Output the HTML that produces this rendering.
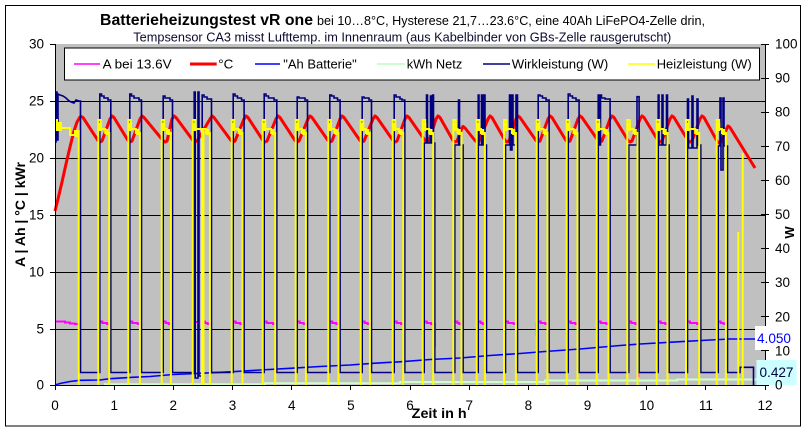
<!DOCTYPE html>
<html><head><meta charset="utf-8"><style>html,body{margin:0;padding:0;background:#fff;overflow:hidden}svg{display:block}</style></head><body>
<svg xmlns="http://www.w3.org/2000/svg" width="809" height="432" viewBox="0 0 809 432" font-family="'Liberation Sans', Arial, sans-serif">
<rect x="0" y="0" width="809" height="432" fill="#fff"/>
<rect x="5.5" y="5.5" width="795" height="420.5" fill="#fff" stroke="#000" stroke-width="1" shape-rendering="crispEdges"/>
<!-- title -->
<text x="100" y="25" font-size="16" font-weight="bold" fill="#000" textLength="213" lengthAdjust="spacingAndGlyphs">Batterieheizungstest vR one</text>
<text x="317" y="25" font-size="13" fill="#000" textLength="388" lengthAdjust="spacingAndGlyphs">bei 10…8°C, Hysterese 21,7…23.6°C, eine 40Ah LiFePO4-Zelle drin,</text>
<text x="133.3" y="41.5" font-size="13" fill="#0a0a30" textLength="538" lengthAdjust="spacingAndGlyphs">Tempsensor CA3 misst Lufttemp. im Innenraum (aus Kabelbinder von GBs-Zelle rausgerutscht)</text>
<!-- plot area -->
<rect x="55" y="44" width="711" height="341" fill="#C0C0C0"/>
<g stroke="#000" stroke-width="1" shape-rendering="crispEdges" fill="none">
<path d="M55,101.5H766M55,158.5H766M55,215.5H766M55,272.5H766M55,329.5H766"/>
</g>
<!-- legend -->
<rect x="64.5" y="48" width="695" height="32" fill="#fff" stroke="#000" stroke-width="1" shape-rendering="crispEdges"/>
<g fill="none">
<path d="M74,64H100" stroke="#FF00FF" stroke-width="1.5"/>
<path d="M190,64H216.7" stroke="#FF0000" stroke-width="3"/>
<path d="M255,64H280" stroke="#0000FF" stroke-width="1.5"/>
<path d="M377,64H405" stroke="#CCFFCC" stroke-width="2"/>
<path d="M483,64H510" stroke="#000080" stroke-width="1.5"/>
<path d="M628,64H655" stroke="#FFFF00" stroke-width="1.5"/>
</g>
<g font-size="13.3" fill="#000">
<text x="102.7" y="68.5" textLength="69" lengthAdjust="spacingAndGlyphs">A bei 13.6V</text>
<text x="218.3" y="68.5" textLength="15" lengthAdjust="spacingAndGlyphs">°C</text>
<text x="283.3" y="68.5" textLength="73.4" lengthAdjust="spacingAndGlyphs">&quot;Ah Batterie&quot;</text>
<text x="406.7" y="68.5" textLength="55.6" lengthAdjust="spacingAndGlyphs">kWh Netz</text>
<text x="511.7" y="68.5" textLength="96.6" lengthAdjust="spacingAndGlyphs">Wirkleistung (W)</text>
<text x="656.7" y="68.5" textLength="95" lengthAdjust="spacingAndGlyphs">Heizleistung (W)</text>
</g>
<!-- magenta A -->
<path fill="none" stroke="#FF00FF" stroke-width="2" d="M55,321.5H65V322.5H70V323.5H75V324H79.5V360
M99.8,321.5H102.3V323H107V324H109
M129.8,321.5H132.3V323H137.7V324H139.7
M163.2,321.5H165.7V323H168.7V324H170.7
M194,322H198M203,321.5H205V323H207.7V324H209.7
M233.2,321.5H235.7V323H240.3V324H242.3
M264.2,321.5H266.7V323H273V324H275
M297.2,321.5H299.7V323H303.7V324H305.7
M329.8,321.5H332.3V323H336.3V324H338.3
M362.2,321.5H364.7V323H367.7V324H369.7
M394.2,321.5H396.7V323H401V324H403
M424.2,321.5H426.7V323H431V324H433M434.8,323V347
M454.8,321.5H457.3V323H459.3V324H461.3
M478.2,321.5H480.7V323H482.7V324H484.7
M505.5,321.5H508V323H513.7V324H515.7
M536.5,322V336M538.2,321.5H540.7V323H545.3V324H547.3
M568.2,321.5H570.7V323H575.3V324H577.3
M598.2,321.5H600.7V323H606.3V324H608.3
M628.8,321.5H631.3V323H635.3V324H637.3M638.3,353V377
M658.2,321.5H660.7V323H665.3V324H667.3
M687.5,321.5H690V323H697V324H699
M718.2,321.5H720.7V323H723.7V324H725.7"/>
<!-- red temperature -->
<path fill="none" stroke="#FF0000" stroke-width="3" stroke-linejoin="round" d="M55,211L58,199L62,182L66,164L70,147L74,131L77,122L80,117L81,116.5
L83,117.5L98,140.5L100,142L102,141L110,119L112,116
L114,117.5L128,140.5L130,142L132,141L140,119L142,116
L144,117.5L163,140.5L165,142L167,141L172,119L174,116
L176,117.5L193,140.5L195,142L197,141L210,119L212,116
L214,117.5L231,140.5L233,142L235,141L244,119L246,116
L248,117.5L263,140.5L265,142L267,141L276,119L278,116
L280,117.5L295,140.5L297,142L299,141L308,119L310,116
L312,117.5L328,140.5L330,142L332,141L340,119L342,116
L344,117.5L360,140.5L362,142L364,141L373,119L375,116
L377,117.5L393,140.5L395,142L397,141L405,119L407,116
L409,117.5L425,140.5L427,142L429,141L436,119L438,116
L440,117.5L453,140.5L455,142L457,141L462,128L463,126.5
L465,128L475,140.5L477,142L479,141L488,119L490,116
L492,117.5L505,140.5L507,142L509,141L516,119L518,116
L520,117.5L536,140.5L538,142L540,141L548,119L550,116
L552,117.5L566,140.5L568,142L570,141L578,119L580,116
L582,117.5L598,140.5L600,142L602,141L610,119L612,116
L614,117.5L628,140.5L630,142L632,141L640,119L642,116
L644,117.5L658,140.5L660,142L662,141L670,119L672,116
L674,117.5L688,140.5L690,142L692,141L700,119L702,116
L704,117.5L717,141L719,143L721,142L727,128L728,126
L730,127.5L755,168"/>
<!-- blue Ah -->
<path fill="none" stroke="#0000FF" stroke-width="1.6" d="M55,385L60,383.5L70,381.5L80,380.3L100,380L110,378.7L132,377.3L150,376.5L173,374.5L200,373.3L233,371.7L260,370L290,368.3L320,366.5L350,365L373,363.3L400,361.8L430,359.5L460,358L490,355.5L520,353.5L545,351.5L580,349L620,345.5L640,344L680,341.7L710,340L730,339L766,339"/>
<!-- light green kWh -->
<path fill="none" stroke="#CCFFCC" stroke-width="2" d="M104,384.3H265V383.3H400V382H545V380.5H677V379.5H766"/>
<!-- navy Wirkleistung -->
<path fill="none" stroke="#000080" stroke-width="1.6" d="M55,142H56V92H57V140H58V94L60,95L63,96L66,98L68,100L71,102L74,103L76,100L79,101H80.5V372.5
H99.8V94H101.5V96H104V98H108V100H110.8V372.5
H129.8V94H131.5V96H134V98H139V100H141.5V372.5
H163.2V96H165V98H170V100H172.5V372.5
H194.2V92H195.2V378H198V92H199V376H202.2V95H204V97H207V99H211.5V372.5
H233.2V94H235V96H237.5V98H241.5V100H244.1V372.5
H264.2V94H266V96H268.5V98H274V100H276.8V372.5
H297.2V97H299V98H305V100H307.5V372.5
H329.8V95H331.5V96H334V98H337.5V100H340.1V372.5
H362.2V97H364V98H369V100H371.5V372.5
H394.2V95H396V97H400V99H402V100H404.8V372.5
H424.2V143H426.5V95H427.5V143H430.5V96H431.5V143H432.5V95H433.5V143H434.8V372.5
H454.8V145H458.5V100H459.5V145H463.1V372.5
H478.2V95H479V145H481.5V95H482.5V145H484V95H485V145H486.5V372.5
H505.5V145H509.5V95H510.5V150H512V95H513V145H516V95H517.5V372.5
H538.2V95H540V96H542.5V98H546V100H549.1V372.5
H568.2V94H570V96H572.5V98H576V100H579.1V372.5
H598.2V95H599V145H600.5V95H601.5V98H605V99H610.1V372.5
H628.8V145H637V96.7H639.1V372.5
H658.2V95H659V145H662V95H663V145H666.5V95H667.5V145H669.1V372.5
H687.5V99H688.5V148H692V96H693V148H697V99H698V145H700.8V372.5
H718.2V146H720V98H721V170H723V98H724V146H727.5V372.5
H740V367.3H753.5V385"/>
<!-- yellow Heizleistung -->
<path fill="none" stroke="#FFFF00" stroke-width="2" d="M55,120H57V128H70V135H75V131H78.7V385
M98.3,385V120H100.8V129H105.2V133H109.2V385
M128.3,385V120H130.8V129H135.9V133H139.9V385
M161.7,385V120H164.2V129H166.9V133H170.9V385
M192.7,385V120H195.2V129H202V385M203.5,385V129H205.9V133H209.9V385
M231.7,385V120H234.2V129H238.5V133H242.5V385
M262.7,385V120H265.2V129H271.2V133H275.2V385
M295.7,385V120H298.2V129H301.9V133H305.9V385
M328.3,385V120H330.8V129H334.5V133H338.5V385
M360.7,385V120H363.2V129H365.9V133H369.9V385
M392.7,385V120H395.2V129H399.2V133H403.2V385
M422.7,385V120H425.2V129H429.2V133H433.2V385
M453.3,385V120H455.8V129H457.5V133H461.5V385
M476.7,385V120H479.2V129H480.9V133H484.9V385
M504,385V120H506.5V129H511.9V133H515.9V385
M536.7,385V120H539.2V129H543.5V133H547.5V385
M566.7,385V120H569.2V129H573.5V133H577.5V385
M596.7,385V120H599.2V129H604.5V133H608.5V385
M627.3,385V120H629.8V129H633.5V133H637.5V385
M656.7,385V120H659.2V129H663.5V133H667.5V385
M686,385V120H688.5V129H695.2V133H699.2V385
M716.7,385V120H719.2V129H721.9V133H725.9V385
M738.3,385V232M742.7,153V385"/>
<path fill="#FFFF00" d="M55,122h7v9h-7zM75,130h3v7h-3z
M98.8,123h3v8h-3zM105.5,129h3v6h-3z
M128.8,123h3v8h-3zM136.2,129h3v6h-3z
M162.2,123h3v8h-3zM167.2,129h3v6h-3z
M193.2,123h3v8h-3zM206.2,129h3v6h-3z
M232.2,123h3v8h-3zM238.8,129h3v6h-3z
M263.2,123h3v8h-3zM271.5,129h3v6h-3z
M296.2,123h3v8h-3zM302.2,129h3v6h-3z
M328.8,123h3v8h-3zM334.8,129h3v6h-3z
M361.2,123h3v8h-3zM366.2,129h3v6h-3z
M393.2,123h3v8h-3zM399.5,129h3v6h-3z
M423.2,123h3v8h-3zM429.5,129h3v6h-3z
M453.8,123h3v8h-3zM457.8,129h3v6h-3z
M477.2,123h3v8h-3zM481.2,129h3v6h-3z
M504.5,123h3v8h-3zM512.2,129h3v6h-3z
M537.2,123h3v8h-3zM543.8,129h3v6h-3z
M567.2,123h3v8h-3zM573.8,129h3v6h-3z
M597.2,123h3v8h-3zM604.8,129h3v6h-3z
M627.8,123h3v8h-3zM633.8,129h3v6h-3z
M657.2,123h3v8h-3zM663.8,129h3v6h-3z
M686.5,123h3v8h-3zM695.5,129h3v6h-3z
M717.2,123h3v8h-3zM722.2,129h3v6h-3z"/>
<!-- axes -->
<g stroke="#000" stroke-width="1" shape-rendering="crispEdges" fill="none">
<path d="M55.5,44V385.5M765.5,44V385.5M55,385.5H766"/>
<path d="M50,44.5H55M50,101.5H55M50,158.5H55M50,215.5H55M50,272.5H55M50,329.5H55M50,385.5H55"/>
<path d="M761,44.5H769M761,78.5H769M761,112.5H769M761,146.5H769M761,180.5H769M761,214.5H769M761,248.5H769M761,282.5H769M761,316.5H769M761,350.5H769M761,385.5H769"/>
<path d="M55.5,385V390M114.5,385V390M173.5,385V390M232.5,385V390M291.5,385V390M350.5,385V390M410.5,385V390M469.5,385V390M528.5,385V390M587.5,385V390M646.5,385V390M705.5,385V390M765.5,385V390"/>
</g>
<!-- data labels -->
<rect x="755" y="326" width="38" height="24" fill="#fff"/>
<text x="757" y="343" font-size="14" fill="#0000FF" textLength="34" lengthAdjust="spacingAndGlyphs">4.050</text>
<rect x="756.5" y="360" width="40" height="25" fill="#CCFFFF"/>
<text x="759.5" y="377" font-size="14" fill="#000040" textLength="34" lengthAdjust="spacingAndGlyphs">0.427</text>
<!-- left tick labels -->
<g font-size="13.5" fill="#000" text-anchor="end">
<text x="44" y="389.5">0</text>
<text x="44" y="333.5">5</text>
<text x="44" y="276.5">10</text>
<text x="44" y="219.5">15</text>
<text x="44" y="162.5">20</text>
<text x="44" y="105.5">25</text>
<text x="44" y="48.5">30</text>
</g>
<!-- right tick labels -->
<g font-size="13.5" fill="#000">
<text x="775" y="389.5">0</text>
<text x="775" y="355.4">10</text>
<text x="775" y="321.3">20</text>
<text x="775" y="287.2">30</text>
<text x="775" y="253.1">40</text>
<text x="775" y="219">50</text>
<text x="775" y="184.9">60</text>
<text x="775" y="150.8">70</text>
<text x="775" y="116.7">80</text>
<text x="775" y="82.6">90</text>
<text x="775" y="48.5">100</text>
</g>
<!-- x tick labels -->
<g font-size="13.5" fill="#000" text-anchor="middle">
<text x="55" y="410">0</text>
<text x="114.2" y="410">1</text>
<text x="173.3" y="410">2</text>
<text x="232.5" y="410">3</text>
<text x="291.7" y="410">4</text>
<text x="350.9" y="410">5</text>
<text x="410" y="410">6</text>
<text x="469.2" y="410">7</text>
<text x="528.4" y="410">8</text>
<text x="587.5" y="410">9</text>
<text x="646.7" y="410">10</text>
<text x="705.9" y="410">11</text>
<text x="765" y="410">12</text>
</g>
<!-- axis titles -->
<text x="411.7" y="418" font-size="13.5" font-weight="bold" fill="#000" textLength="55" lengthAdjust="spacingAndGlyphs">Zeit in h</text>
<text transform="translate(25,214.5) rotate(-90)" text-anchor="middle" font-size="14" font-weight="bold" fill="#000" textLength="105" lengthAdjust="spacingAndGlyphs">A | Ah | °C | kWr</text>
<text transform="translate(794,232.5) rotate(-90)" text-anchor="middle" font-size="13" font-weight="bold" fill="#000">W</text>
</svg>
</body></html>
